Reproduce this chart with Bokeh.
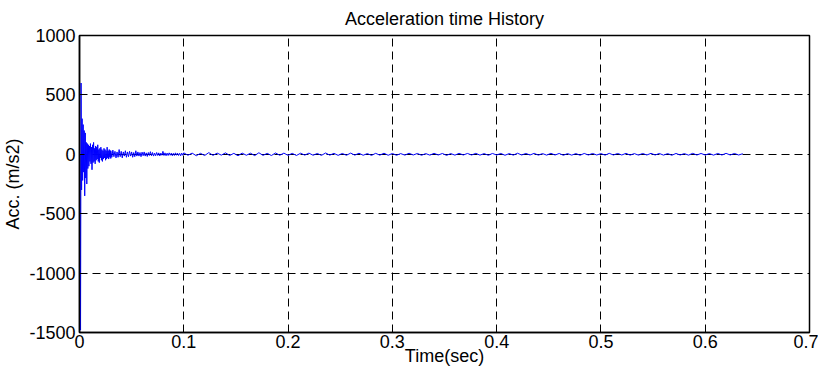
import numpy as np
from bokeh.plotting import figure
from bokeh.models import Range1d, FixedTicker
from bokeh.embed import file_html
from bokeh.resources import INLINE

# --- data ---
seg1_start, seg1_dt = 0.0005, 0.0005
seg1_acc = [0, -1480, 600, -300, 300, -220, 250, -150, 200, -350,
            180, -200, 100, -250, 90, -120, 80, -100, 70, -60,
            90, -80, 60, -130, 80, -70, 100, -60, 50, -80,
            70, -50, 60, -40, 80, -60, 40, -70, 50, -30,
            60, -50, 40, -60, 30, -40, 50, -30, 40, -50,
            30, -40, 60, -30, 30, -40, 40, -25, 30, -35]
seg2_start, seg2_dt = 0.03, 0.001
seg2_acc = [30, -25, 35, -20, 25, -30, 20, -25, 40, -20,
            25, -30, 20, -15, 30, -25, 20, -20, 25, -15,
            20, -25, 15, -20, 30, -15, 20, -15, 15, -20,
            18, -12, 20, -15, 12, -18, 15, -10, 22, -12,
            15, -15, 10, -12, 15, -10, 12, -14, 10, -8,
            25, -10, 12, -12, 10, -10, 12, -8, 10, -12,
            8, -10, 12, -8, 10, -10, 8, -12, 10, -8]
seg3_start, seg3_dt = 0.1, 0.004
seg3_acc = [12, -8, 10, -12, 8, -10, 14, -9, 10, -7, 12, -10, 8, -12, 10, -8, 9, -11, 13, -9, 8, -10, 11, -8, 10,
            -9, 8, -10, 9, -7, 10, -8, 7, -9, 11, -7, 8, -9, 7, -8, 10, -7, 9, -8, 6, -9, 8, -7, 9, -8,
            7, -8, 6, -7, 9, -6, 7, -8, 6, -7, 8, -6, 7, -9, 6, -7, 8, -6, 7, -6, 8, -7, 6, -8, 7,
            -6, 7, -8, 6, -7, 9, -6, 7, -6, 8, -7, 6, -7, 8, -6, 7, -8, 6, -7, 6, -8, 7, -6, 7, -6,
            6, -7, 8, -6, 7, -6, 8, -7, 6, -7, 7, -6, 8, -6, 7, -7, 6, -8, 7, -6, 6, -7, 8, -6, 7,
            -6, 6, -7, 7, -6, 8, -6, 7, -6, 5]

x_ticks = [0, 0.1, 0.2, 0.3, 0.4, 0.5, 0.6, 0.7]
x_tick_labels = ["0", "0.1", "0.2", "0.3", "0.4", "0.5", "0.6", "0.7"]
y_ticks = [-1500, -1000, -500, 0, 500, 1000]
y_tick_labels = ["-1500", "-1000", "-500", "0", "500", "1000"]

segments = [(seg1_start, seg1_dt, seg1_acc),
            (seg2_start, seg2_dt, seg2_acc),
            (seg3_start, seg3_dt, seg3_acc)]
t = np.concatenate([np.array([0.0])] + [s + d * np.arange(len(a)) for s, d, a in segments])
acc = np.concatenate([np.array([0.0])] + [np.array(a, dtype=float) for _, _, a in segments])

FONT = "Liberation Sans"
FS = "18px"

p = figure(width=818, height=369, output_backend="svg", toolbar_location=None,
           x_range=Range1d(0, 0.7), y_range=Range1d(-1500, 1000),
           min_border_left=78, min_border_right=9, min_border_top=34, min_border_bottom=37)

p.title.text = "Acceleration time History"
p.title.align = "center"
p.title.text_font = FONT
p.title.text_font_size = FS
p.title.text_font_style = "normal"
p.title.text_color = "black"
p.title.offset = 0
p.title.standoff = 13

p.line(t, acc, line_color="#0000FF", line_width=1)

for ax in (p.xaxis[0], p.yaxis[0]):
    ax.major_label_text_font = FONT
    ax.major_label_text_font_size = FS
    ax.major_label_text_color = "black"
    ax.axis_label_text_font = FONT
    ax.axis_label_text_font_size = FS
    ax.axis_label_text_font_style = "normal"
    ax.axis_label_text_color = "black"
    ax.axis_line_color = "black"
    ax.axis_line_width = 1.5
    ax.major_tick_in = 5
    ax.major_tick_out = 0
    ax.major_tick_line_color = "black"
    ax.minor_tick_line_color = None

p.xaxis.ticker = FixedTicker(ticks=x_ticks)
p.yaxis.ticker = FixedTicker(ticks=y_ticks)
p.xaxis.major_label_overrides = dict(zip(x_ticks, x_tick_labels))
p.yaxis.major_label_overrides = dict(zip(y_ticks, y_tick_labels))
p.xaxis.axis_label = "Time(sec)"
p.yaxis.axis_label = "Acc. (m/s2)"
p.xaxis.major_label_standoff = 2
p.xaxis.axis_label_standoff = -5
p.yaxis.major_label_standoff = 4
p.yaxis.axis_label_standoff = 3

p.xgrid.grid_line_color = "black"
p.ygrid.grid_line_color = "black"
p.xgrid.grid_line_dash = "8 5"
p.ygrid.grid_line_dash = "8 5"
p.xgrid.grid_line_width = 1
p.ygrid.grid_line_width = 1

p.outline_line_color = "black"
p.outline_line_width = 1.5
p.outline_line_alpha = 1
p.background_fill_color = "white"
p.border_fill_color = "white"

open("out.html", "w").write(file_html(p, INLINE))
